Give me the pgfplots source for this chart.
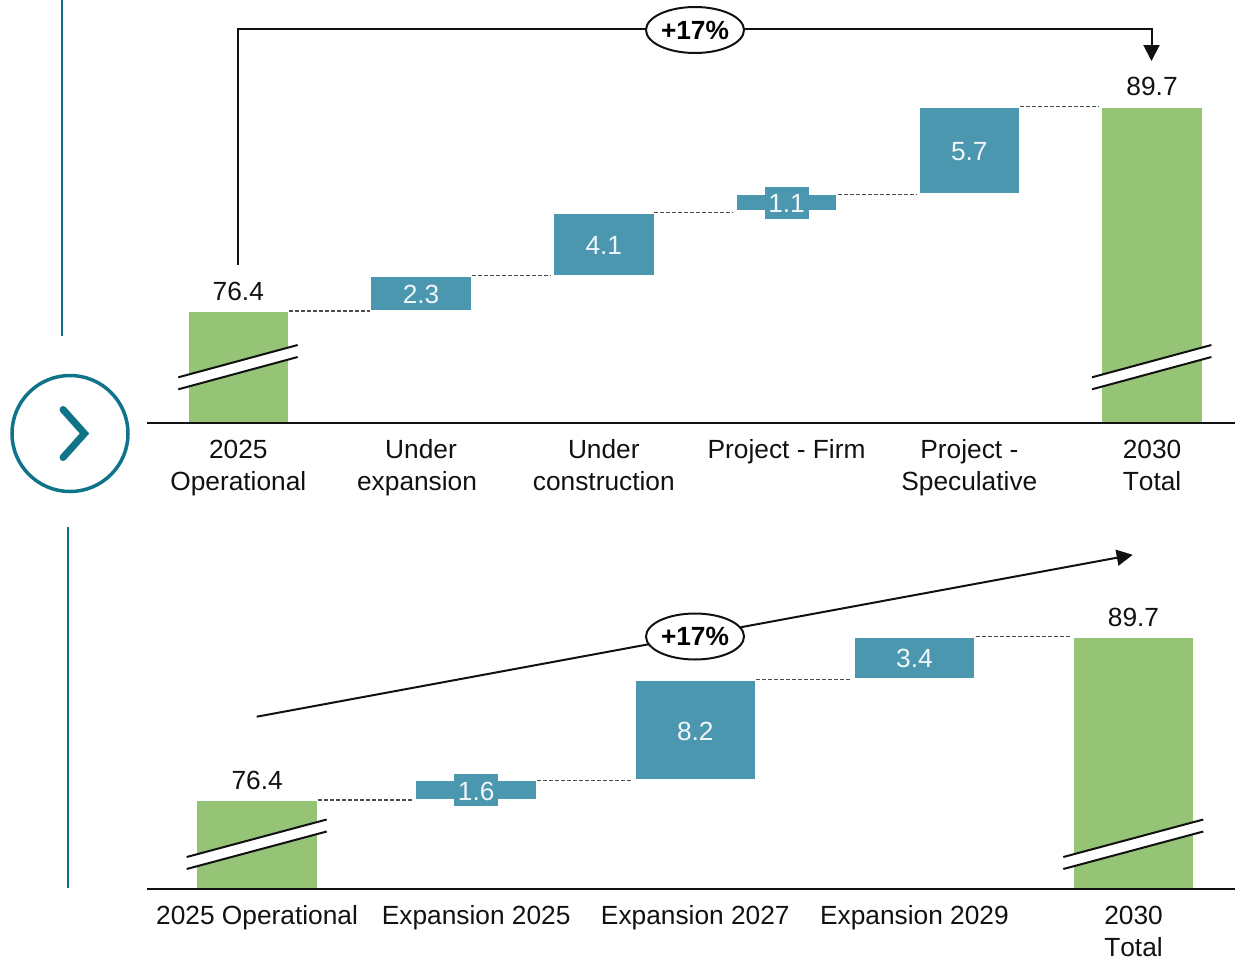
\documentclass[border=0pt]{standalone}
\usepackage{fontspec}
\setmainfont[Kerning=Off]{Liberation Sans}
\usepackage{pgfplots}
\pgfplotsset{compat=1.18}
\usetikzlibrary{arrows.meta,shapes.geometric}
\definecolor{barblue}{HTML}{4B97AF}
\definecolor{bargreen}{HTML}{95C476}
\definecolor{teal}{HTML}{0F7489}
\definecolor{ink}{HTML}{111111}
\newcommand{\lab}{\fontsize{26.3}{32}\selectfont}
\newcommand{\labb}{\fontsize{26.3}{32}\selectfont\bfseries}
\newcommand{\T}{\rule{0pt}{19.5pt}}
\pgfplotsset{
  topframe/.style={scale only axis,width=1088pt,height=423pt,at={(147pt,-423pt)},anchor=south west,
    xmin=-0.4996,xmax=5.4539,ymin=69.099,ymax=96.674},
  botframe/.style={scale only axis,width=1088pt,height=358.5pt,at={(147pt,-888.5pt)},anchor=south west,
    xmin=-0.5025,xmax=4.4633,ymin=69.179,ymax=98.43},
  barframe/.style={ybar stacked,axis y line=none,axis x line*=bottom,axis on top,
    x axis line style={line width=2pt,color=ink},
    xtick=data,major tick length=0pt,
    xticklabel style={align=center,font=\lab,text=ink,inner sep=0pt,yshift=-16pt,anchor=north}},
  conn/.style={black!70,line width=1.2pt,dash pattern=on 4pt off 2pt,forget plot},
  hidebase/.style={draw=none,fill=none},
}
\tikzset{
  val/.style={font=\lab,text=ink,anchor=base,yshift=11pt,inner sep=0pt},
  inbar/.style={font=\lab,text=white!92!barblue,inner sep=0pt,anchor=center,yshift=-1pt},
  inbox/.style={fill=barblue,inner sep=0pt,minimum height=32pt,minimum width=44pt},
}
\newcommand{\breakmark}[4]{% x1 y1(upper left) x2 y2(upper right)
  \fill[white] (#1,#2) -- (#3,#4) -- (#3,#4+12) -- (#1,#2+12) -- cycle;
  \draw[ink,line width=2pt] (#1,#2) -- (#3,#4);
  \draw[ink,line width=2pt] (#1,#2+12) -- (#3,#4+12);
}
\begin{document}
\begin{tikzpicture}[x=1pt,y=-1pt]
\path[use as bounding box] (0,0) rectangle (1235,959);

% ---------- top waterfall: bars
\begin{axis}[topframe,barframe,bar width=101.5pt,
  xticklabels={{\T 2025\\Operational},{\T Under\\expansion\hspace*{8pt}},{\T Under\\construction},{\T Project - Firm},{\T Project -\\Speculative},{\T 2030\\Total}}]
\addplot[hidebase] coordinates {(0,0)(1,76.4)(2,78.7)(3,82.9)(4,84.0)(5,0)};
\addplot[fill=barblue,draw=white,line width=2pt] coordinates {(0,0)(1,2.3)(2,4.1)(3,1.1)(4,5.7)(5,0)};
\addplot[fill=bargreen,draw=white,line width=2pt] coordinates {(0,76.4)(1,0)(2,0)(3,0)(4,0)(5,89.7)};
\end{axis}
% ---------- top waterfall: connectors and values
\begin{axis}[topframe,hide axis]
\addplot[conn] coordinates {(0.279,76.4)(0.7225,76.4)};
\addplot[conn] coordinates {(1.281,78.7)(1.713,78.7)};
\addplot[conn] coordinates {(2.277,82.8)(2.709,82.8)};
\addplot[conn] coordinates {(3.279,84.0)(3.706,84.0)};
\addplot[conn] coordinates {(4.279,89.74)(4.712,89.74)};
\node[val] at (axis cs:0,76.4) {76.4};
\node[val] at (axis cs:5,89.7) {89.7};
\node[inbar] at (axis cs:1,77.55) {2.3};
\node[inbar] at (axis cs:2,80.75) {4.1};
\node[inbox] at (axis cs:3,83.45) {};
\node[inbar] at (axis cs:3,83.45) {1.1};
\node[inbar] at (axis cs:4,86.85) {5.7};
\end{axis}

% ---------- bottom waterfall: bars
\begin{axis}[botframe,barframe,bar width=121.5pt,
  xticklabels={{\T 2025 Operational},{\T Expansion 2025},{\T Expansion 2027},{\T Expansion 2029},{\T 2030\\Total}}]
\addplot[hidebase] coordinates {(0,0)(1,76.4)(2,78.0)(3,86.3)(4,0)};
\addplot[fill=barblue,draw=white,line width=2pt] coordinates {(0,0)(1,1.6)(2,8.2)(3,3.4)(4,0)};
\addplot[fill=bargreen,draw=white,line width=2pt] coordinates {(0,76.4)(1,0)(2,0)(3,0)(4,89.7)};
\end{axis}
% ---------- bottom waterfall: connectors and values
\begin{axis}[botframe,hide axis]
\addplot[conn] coordinates {(0.279,76.4)(0.717,76.4)};
\addplot[conn] coordinates {(1.279,78.0)(1.712,78.0)};
\addplot[conn] coordinates {(2.279,86.2)(2.712,86.2)};
\addplot[conn] coordinates {(3.279,89.74)(3.717,89.74)};
\node[val,yshift=-0.5pt] at (axis cs:0,76.4) {76.4};
\node[val,yshift=-0.5pt] at (axis cs:4,89.7) {89.7};
\node[inbox] at (axis cs:1,77.2) {};
\node[inbar] at (axis cs:1,77.2) {1.6};
\node[inbar] at (axis cs:2,82.1) {8.2};
\node[inbar] at (axis cs:3,88.0) {3.4};
\end{axis}

% ---------- axis breaks
\breakmark{178.3}{377.3}{297.7}{345}
\breakmark{1092}{377.3}{1211.4}{345}
\breakmark{186.7}{857}{326.7}{819.5}
\breakmark{1063.3}{857}{1203.3}{819.5}

% ---------- growth arrows
\draw[ink,line width=2pt,-{Triangle[length=16pt,width=16pt]}] (238,265) -- (238,29) -- (1151.5,29) -- (1151.5,61);
\node[draw=ink,line width=2pt,fill=white,ellipse,minimum width=98pt,minimum height=46pt,inner sep=0pt,font=\labb,text=black] at (695,30) {+17\%};
\draw[ink,line width=2pt,-{Triangle[length=16pt,width=16pt]}] (256.7,716.7) -- (1132.7,554.8);
\node[draw=ink,line width=2pt,fill=white,ellipse,minimum width=98pt,minimum height=46pt,inner sep=0pt,font=\labb,text=black] at (695,636.5) {+17\%};

% ---------- side decoration
\draw[teal,line width=2pt] (61.5,0) -- (61.5,336);
\draw[teal,line width=2pt] (68,527) -- (68,888);
\draw[teal,line width=3.5pt] (70,433.5) circle [radius=58];
\draw[teal,line width=7pt,line cap=round,line join=miter] (63,409.5) -- (84.5,433.5) -- (63,457.5);
\end{tikzpicture}
\end{document}
